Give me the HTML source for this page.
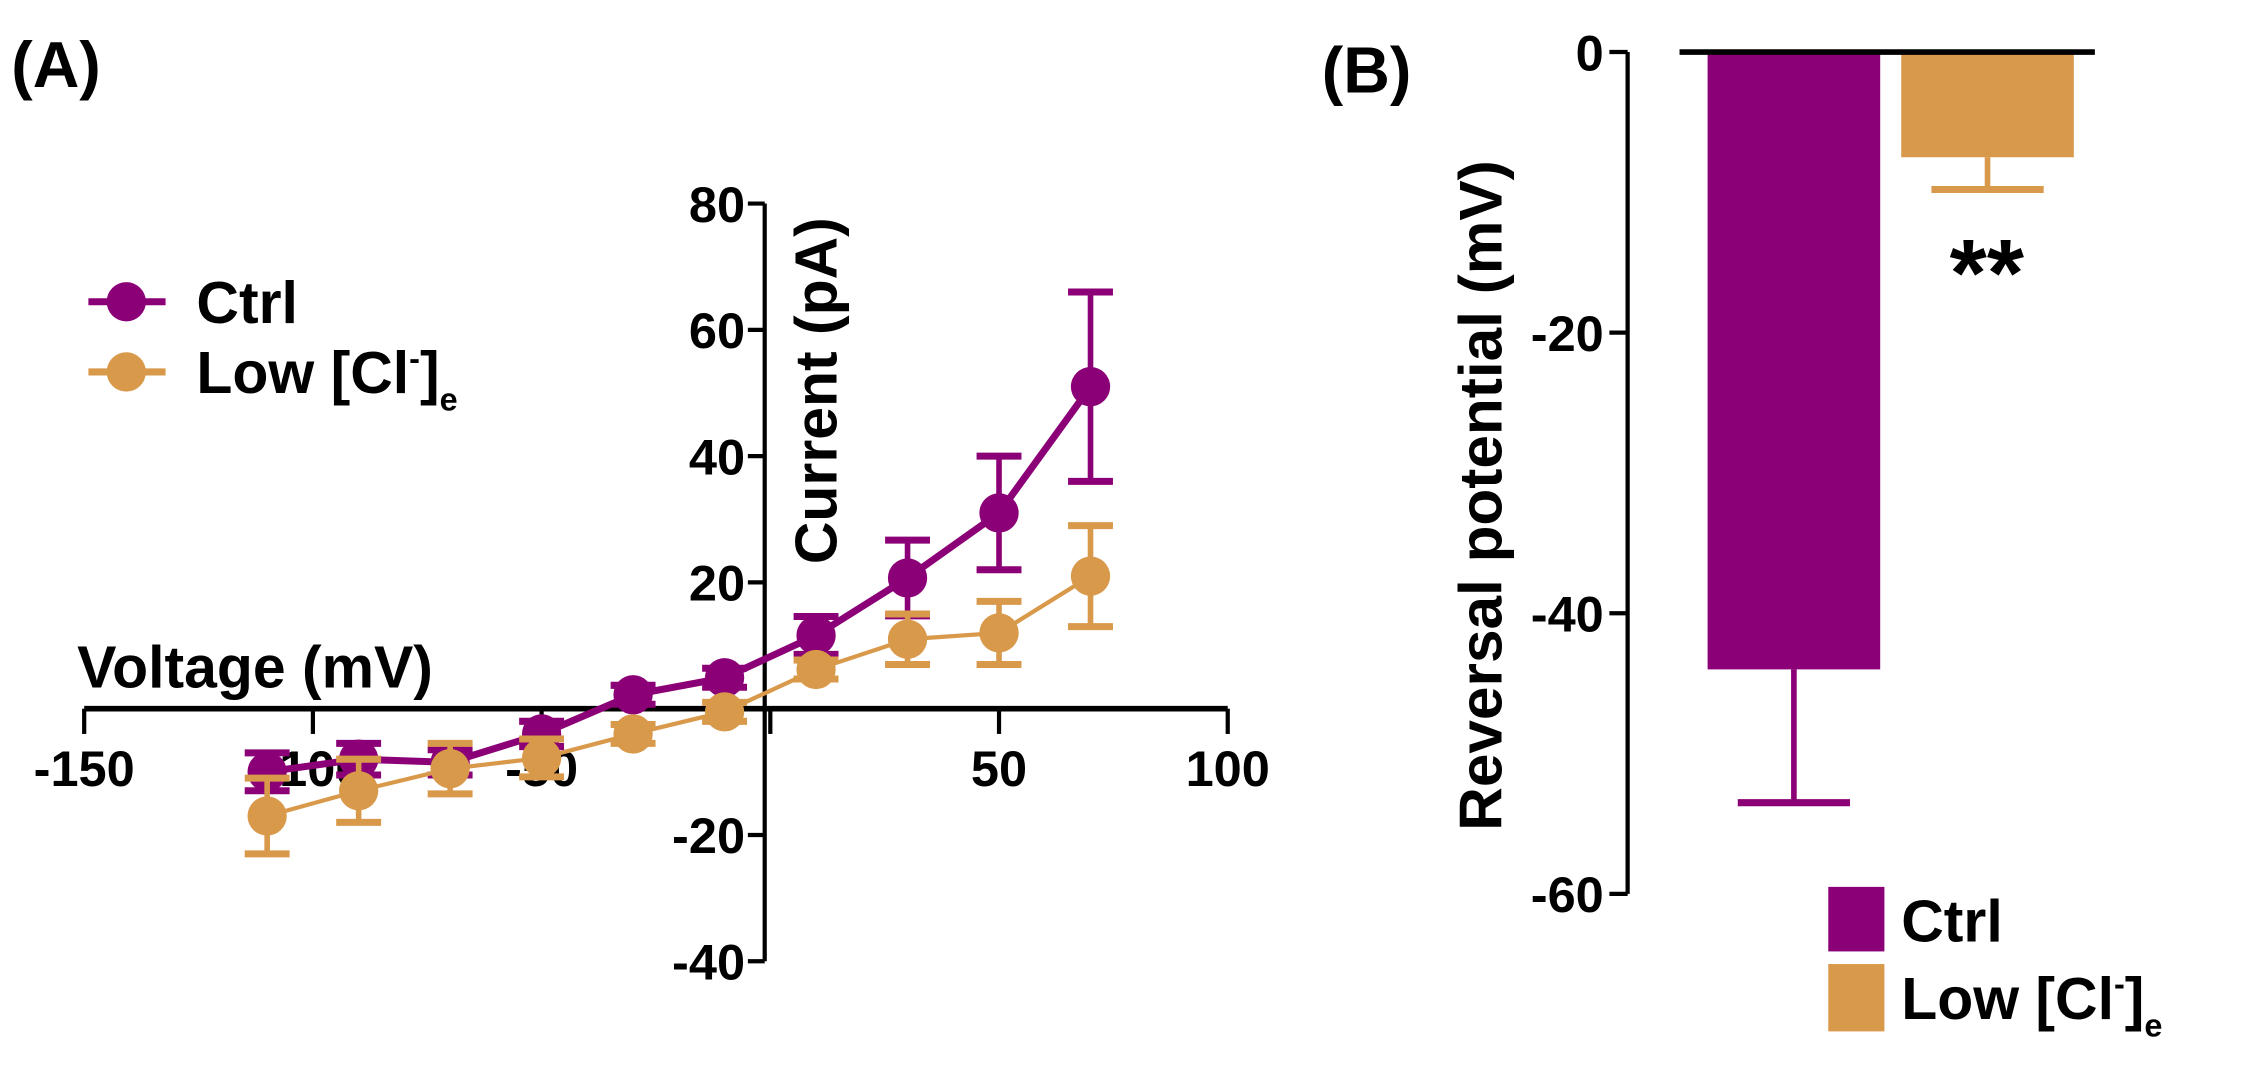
<!DOCTYPE html>
<html><head><meta charset="utf-8"><style>
html,body{margin:0;padding:0;background:#fff;}
svg{display:block;font-family:"Liberation Sans",Arial,sans-serif;font-weight:bold;}
</style></head><body>
<svg id="chart" width="2245" height="1075" viewBox="0 0 1600 766" xmlns="http://www.w3.org/2000/svg">
<g id="pa"></g>
<g id="pb"></g>
</svg>
<script>
const voltages = [-110,-90,-70,-50,-30,-10,10,30,50,70];
const ctrlMean = [-10,-8,-8.5,-4,2.2,4.9,11.6,20.7,31,51];
const ctrlErr  = [3,2.5,2,2,1.5,1.5,3,6,9,15];
const lowMean  = [-17,-13,-9.5,-7.8,-4,-0.5,6.2,11,12,21];
const lowErr   = [6,5,4,3,1.5,1.5,1.5,4,5,8];
const xTicks = [-150,-100,-50,0,50,100];
const xTickLabels = ["-150","-100","-50","","50","100"];
const yTicks = [-40,-20,0,20,40,60,80];
const yTickLabels = ["-40","-20","","20","40","60","80"];
const barCats = ["Ctrl","Low [Cl-]e"];
const barMeans = [-44,-7.5];
const barErrs = [9.5,2.3];
const bTicks = [0,-20,-40,-60];

const NS="http://www.w3.org/2000/svg";
const PUR="#8b0076", ORA="#d9994b";
function mk(parent,tag,attrs,name,text){
  const e=document.createElementNS(NS,tag);
  for(const k in attrs) e.setAttribute(k,attrs[k]);
  
  
  if(text!==undefined) e.textContent=text;
  parent.appendChild(e); return e;
}
function supsub(tx,fs){
  const s1=document.createElementNS(NS,'tspan');s1.setAttribute('dy',String(-fs*0.4));s1.setAttribute('font-size',String(fs*0.55));s1.textContent='-';tx.appendChild(s1);
  const s2=document.createElementNS(NS,'tspan');s2.setAttribute('dy',String(fs*0.4));s2.textContent=']';tx.appendChild(s2);
  const s3=document.createElementNS(NS,'tspan');s3.setAttribute('dy',String(fs*0.3));s3.setAttribute('font-size',String(fs*0.55));s3.textContent='e';tx.appendChild(s3);
}
const pa=document.getElementById('pa'), pb=document.getElementById('pb');
const xS=v=>549+v*3.26, yS=v=>505-v*4.5;
mk(pa,'text',{x:8,y:62,'font-size':46},'panel-a-label','(A)');
mk(pa,'line',{x1:xS(-150),x2:xS(100),y1:yS(0),y2:yS(0),stroke:'#000','stroke-width':4},'x-axis');
mk(pa,'line',{x1:xS(0)-4,x2:xS(0)-4,y1:yS(80),y2:yS(-40),stroke:'#000','stroke-width':3},'y-axis');
xTicks.forEach((t,i)=>{
  mk(pa,'line',{x1:xS(t),x2:xS(t),y1:yS(0),y2:yS(0)+18,stroke:'#000','stroke-width':3},'x-tick');
  if(xTickLabels[i]) mk(pa,'text',{x:xS(t),y:yS(0)+55,'font-size':36,'text-anchor':'middle'},'x-tick-label',xTickLabels[i]);
});
yTicks.forEach((t,i)=>{
  mk(pa,'line',{x1:xS(0)-16,x2:xS(0)-4,y1:yS(t),y2:yS(t),stroke:'#000','stroke-width':3},'y-tick');
  if(yTickLabels[i]) mk(pa,'text',{x:xS(0)-18,y:yS(t)+13,'font-size':36,'text-anchor':'end'},'y-tick-label',yTickLabels[i]);
});
mk(pa,'text',{x:55,y:490,'font-size':42},'x-axis-title','Voltage (mV)');
mk(pa,'text',{x:0,y:0,'font-size':42,transform:'translate(596,402) rotate(-90)'},'y-axis-title','Current (pA)');
function series(mean,err,col,name,w){
  const g=mk(pa,'g',{},name+'-series');
  mk(g,'polyline',{points:voltages.map((v,i)=>xS(v)+','+yS(mean[i])).join(' '),fill:'none',stroke:col,'stroke-width':w},name+'-line');
  voltages.forEach((v,i)=>{
    const x=xS(v);
    mk(g,'line',{x1:x,x2:x,y1:yS(mean[i]+err[i]),y2:yS(mean[i]-err[i]),stroke:col,'stroke-width':4},name+'-error-bar');
    [mean[i]+err[i],mean[i]-err[i]].forEach(e=>mk(g,'line',{x1:x-16,x2:x+16,y1:yS(e),y2:yS(e),stroke:col,'stroke-width':5},name+'-error-cap'));
    mk(g,'circle',{cx:x,cy:yS(mean[i]),r:14,fill:col},name+'-point');
  });
}
series(ctrlMean,ctrlErr,PUR,'ctrl',5);
series(lowMean,lowErr,ORA,'low-cl',3);
[[PUR,'Ctrl',215],[ORA,'Low [Cl',265]].forEach(([c,t,y],i)=>{
  const g=mk(pa,'g',{},'legend-entry');
  mk(g,'line',{x1:63,x2:118,y1:y,y2:y,stroke:c,'stroke-width':5},'legend-line');
  mk(g,'circle',{cx:90,cy:y,r:14,fill:c},'legend-marker');
  const tx=mk(g,'text',{x:140,y:y+15,'font-size':42},'legend-label',t);
  if(i===1) supsub(tx,42);
});
const bY=v=>37-v*10;
mk(pb,'text',{x:942,y:66,'font-size':46},'panel-b-label','(B)');
mk(pb,'line',{x1:1160,x2:1160,y1:bY(0),y2:bY(-60),stroke:'#000','stroke-width':3},'b-y-axis');
bTicks.forEach(t=>{
  mk(pb,'line',{x1:1147,x2:1160,y1:bY(t),y2:bY(t),stroke:'#000','stroke-width':3},'b-y-tick');
  mk(pb,'text',{x:1143,y:bY(t)+13,'font-size':36,'text-anchor':'end'},'b-y-tick-label',String(t));
});
mk(pb,'text',{x:0,y:0,'font-size':43,transform:'translate(1070,592) rotate(-90)'},'b-y-axis-title','Reversal potential (mV)');
const bx=[1217,1355], bw=123, bcol=[PUR,ORA];
barMeans.forEach((m,i)=>{
  const cx=bx[i]+bw/2;
  mk(pb,'line',{x1:cx,x2:cx,y1:bY(m),y2:bY(m-barErrs[i]),stroke:bcol[i],'stroke-width':4},'bar-error');
  mk(pb,'line',{x1:cx-40,x2:cx+40,y1:bY(m-barErrs[i]),y2:bY(m-barErrs[i]),stroke:bcol[i],'stroke-width':5},'bar-error-cap');
  mk(pb,'rect',{x:bx[i],y:bY(0),width:bw,height:bY(m)-bY(0),fill:bcol[i]},'bar-'+(i?'low-cl':'ctrl'));
});
mk(pb,'line',{x1:1197,x2:1493,y1:bY(0),y2:bY(0),stroke:'#000','stroke-width':4},'b-zero-line');
mk(pb,'text',{x:1416,y:218,'font-size':68,'text-anchor':'middle'},'significance-stars','**');
mk(pb,'rect',{x:1303,y:632,width:40,height:46,fill:PUR},'legend-swatch-ctrl');
mk(pb,'text',{x:1355,y:671,'font-size':42},'legend-label-ctrl','Ctrl');
mk(pb,'rect',{x:1303,y:687,width:40,height:48,fill:ORA},'legend-swatch-low');
const lt=mk(pb,'text',{x:1355,y:726,'font-size':42},'legend-label-low','Low [Cl');
supsub(lt,42);
</script>
</body></html>
